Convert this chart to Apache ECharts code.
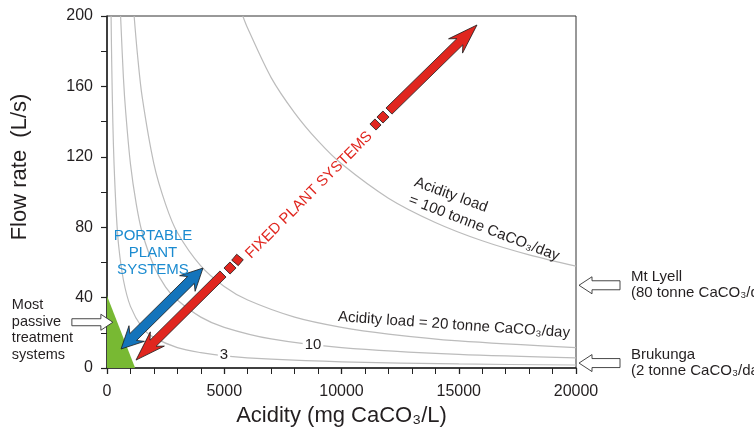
<!DOCTYPE html>
<html>
<head>
<meta charset="utf-8">
<script src="https://cdn.jsdelivr.net/npm/echarts@6/dist/echarts.min.js"></script>
<style>
html, body { margin: 0; padding: 0; background: #fff; }
#chart { width: 754px; height: 442px; }
</style>
</head>
<body>
<div id="chart"></div>
<script>
// iso-load curves: [acidity mg CaCO3/L, flow L/s]
const curve3 = [[174,200],[200,174],[250,139],[300,116],[400,87],[500,69],[700,50],[1000,35],[1500,23],[2000,17.4],[3000,11.6],[4000,8.7],[5000,6.9],[7000,5.0],[10000,3.5],[15000,2.3],[20000,1.7]];
const curve10 = [[579,200],[700,165],[800,145],[1000,116],[1250,93],[1500,77],[2000,58],[2500,46],[3000,38.6],[4000,28.9],[5000,23.1],[7000,16.5],[10000,11.6],[15000,7.7],[20000,5.8]];
const curve20 = [[1157,200],[1300,178],[1500,154],[2000,116],[2500,93],[3000,77],[4000,58],[5000,46.3],[6000,38.6],[8000,28.9],[10000,23.1],[12000,19.3],[15000,15.4],[20000,11.6]];
const curve100 = [[5790,200],[6000,193],[7000,165],[8000,145],[9000,129],[10000,116],[12000,96.5],[14000,82.7],[16000,72.3],[18000,64.3],[20000,57.9]];

// green "most passive treatment" zone
const passiveZone = [[0,41],[1200,0]];

// arrows: [x0, y0, x1, y1, headAtStart, headAtEnd]
const portableArrow = [[600,10.8,4094,56.8,1,1]];
const fixedArrow = [[4947,53.4,1237,4.5,0,1],[12025,146.0,15778,194.9,0,1]];
const fixedDashes = [[5117,55.1,5373,58.5,0,0],[5458,59.7,5671,63.1,0,0],[11343,136.9,11556,139.8,0,0],[11641,140.9,11897,144.3,0,0]];

// curve labels
const curveLabelAt = [[8785,13.1],[4989,7.4]];
const curveLabelText = ['10','3'];

// notes inside the plot
const noteAt = [[14797,24.4],[14669,98.3],[16076,79.5],[8614,98.3],[1960,65.3]];
const noteText = ['Acidity load = 20 tonne CaCO₃/day','Acidity load','= 100 tonne CaCO₃/day','FIXED PLANT SYSTEMS','PORTABLE\nPLANT\nSYSTEMS'];
const noteAngle = [-4,-20,-21,45,0];

// hollow pointer arrows with their captions
const pointerAt = [[20000,47],[20000,2.8],[250,26]];
const pointerText = ['Mt Lyell\n(80 tonne CaCO₃/day)','Brukunga\n(2 tonne CaCO₃/day)','Most\npassive\ntreatment\nsystems'];

const FONT = '"Liberation Sans", Arial, sans-serif';
const INK = '#231f20';
const RED = '#e0261f';
const BLUE = '#1474bb';
const noteColor = [INK, INK, INK, RED, '#1b8bd0'];

function arrowRenderer(fill, w, hw, hl, barb) {
    return function (params, api) {
        const p0 = api.coord([api.value(0), api.value(1)]);
        const p1 = api.coord([api.value(2), api.value(3)]);
        const hs = api.value(4), he = api.value(5);
        const dx = p1[0] - p0[0], dy = p1[1] - p0[1];
        const L = Math.sqrt(dx * dx + dy * dy);
        const ux = dx / L, uy = dy / L, nx = -uy, ny = ux;
        const P = (s, t) => [p0[0] + ux * s + nx * t, p0[1] + uy * s + ny * t];
        let pts = [];
        if (hs) pts.push(P(0, 0), P(hl, hw), P(hl - barb, w));
        else pts.push(P(0, -w), P(0, w));
        if (he) pts.push(P(L - hl + barb, w), P(L - hl, hw), P(L, 0), P(L - hl, -hw), P(L - hl + barb, -w));
        else pts.push(P(L, w), P(L, -w));
        if (hs) pts.push(P(hl - barb, -w), P(hl, -hw));
        return {
            type: 'polygon',
            shape: { points: pts },
            style: { fill: fill, stroke: '#1a1a1a', lineWidth: 0.8 }
        };
    };
}

const chart = echarts.init(document.getElementById('chart'), null, { renderer: 'canvas' });

const curveStyle = { color: '#bcbcbc', width: 1.2 };
const curveSeries = [curve3, curve10, curve20, curve100].map((d, i) => ({
    type: 'line',
    name: 'curve' + i,
    data: d,
    showSymbol: false,
    smooth: 0.3,
    lineStyle: curveStyle,
    z: 2,
    silent: true
}));

chart.setOption({
    animation: false,
    backgroundColor: '#fff',
    textStyle: { fontFamily: FONT },
    grid: {
        left: 107, right: 178, top: 16, bottom: 74,
        containLabel: false,
        outerBoundsMode: 'none',
        show: true,
        borderColor: '#333',
        borderWidth: 1
    },
    xAxis: {
        type: 'value',
        min: 0, max: 20000, interval: 5000,
        name: 'Acidity (mg CaCO₃/L)',
        nameLocation: 'middle',
        nameGap: 25,
        nameTextStyle: { fontSize: 22, color: INK, fontFamily: FONT },
        axisLine: { show: true, lineStyle: { color: '#222', width: 1.5 } },
        axisTick: { show: true, inside: false, length: 6, lineStyle: { color: '#222', width: 1.3 } },
        minorTick: { show: true, splitNumber: 5, length: 6, lineStyle: { color: '#222', width: 1 } },
        splitLine: { show: false },
        minorSplitLine: { show: false },
        axisLabel: { fontSize: 16, color: INK, margin: 16, fontFamily: FONT, formatter: v => String(v) }
    },
    yAxis: {
        type: 'value',
        min: 0, max: 200, interval: 40,
        name: 'Flow rate  (L/s)',
        nameLocation: 'middle',
        nameGap: 76,
        nameTextStyle: { fontSize: 22, color: INK, fontFamily: FONT, padding: [0, 0, 0, 50] },
        axisLine: { show: true, lineStyle: { color: '#222', width: 1.5 } },
        axisTick: { show: true, inside: false, length: 6, lineStyle: { color: '#222', width: 1.2 } },
        minorTick: { show: true, splitNumber: 2, length: 6, lineStyle: { color: '#222', width: 1 } },
        splitLine: { show: false },
        minorSplitLine: { show: false },
        axisLabel: { fontSize: 16, color: INK, margin: 14, fontFamily: FONT, formatter: v => String(v) }
    },
    series: [
        {
            type: 'line',
            name: 'passive',
            data: passiveZone,
            showSymbol: false,
            lineStyle: { width: 0 },
            areaStyle: { color: '#78b933', opacity: 1 },
            z: 1,
            silent: true
        },
        ...curveSeries,
        {
            type: 'custom',
            name: 'curveLabels',
            data: curveLabelAt,
            z: 3,
            silent: true,
            renderItem: function (params, api) {
                const p = api.coord([api.value(0), api.value(1)]);
                return {
                    type: 'text',
                    x: p[0], y: p[1],
                    style: {
                        text: curveLabelText[params.dataIndex],
                        fontSize: 15, fontFamily: FONT, fill: INK,
                        align: 'center', verticalAlign: 'middle',
                        backgroundColor: '#fff', padding: [0, 2]
                    }
                };
            }
        },
        {
            type: 'custom',
            name: 'portable',
            data: portableArrow,
            z: 4,
            silent: true,
            renderItem: arrowRenderer(BLUE, 4.8, 11, 22, 5)
        },
        {
            type: 'custom',
            name: 'fixed',
            data: fixedArrow,
            z: 4,
            silent: true,
            renderItem: arrowRenderer(RED, 4.3, 10, 30, 6)
        },
        {
            type: 'custom',
            name: 'fixedDashes',
            data: fixedDashes,
            z: 4,
            silent: true,
            renderItem: arrowRenderer(RED, 4.3, 4.3, 0, 0)
        },
        {
            type: 'custom',
            name: 'notes',
            data: noteAt,
            z: 5,
            silent: true,
            renderItem: function (params, api) {
                const i = params.dataIndex;
                const p = api.coord([api.value(0), api.value(1)]);
                return {
                    type: 'text',
                    x: p[0], y: p[1],
                    rotation: noteAngle[i] * Math.PI / 180,
                    style: {
                        text: noteText[i],
                        fontSize: 15, fontFamily: FONT, fill: noteColor[i],
                        align: 'center', verticalAlign: 'middle', lineHeight: 17
                    }
                };
            }
        },
        {
            type: 'custom',
            name: 'pointers',
            data: pointerAt,
            z: 5,
            silent: true,
            clip: false,
            renderItem: function (params, api) {
                const i = params.dataIndex;
                const p = api.coord([api.value(0), api.value(1)]);
                const x = p[0], y = p[1];
                let pts, txt;
                if (i < 2) {
                    pts = [[x + 3, y], [x + 16, y - 8.5], [x + 16, y - 4.5], [x + 44, y - 4.5],
                           [x + 44, y + 4.5], [x + 16, y + 4.5], [x + 16, y + 8.5]];
                    txt = { x: x + 55, y: y, align: 'left', verticalAlign: 'middle', lineHeight: 16 };
                } else {
                    pts = [[x, y], [x - 12, y - 8], [x - 12, y - 3.5], [x - 41, y - 3.5],
                           [x - 41, y + 3.5], [x - 12, y + 3.5], [x - 12, y + 8]];
                    txt = { x: x - 101, y: y - 25, align: 'left', verticalAlign: 'top', lineHeight: 16.5 };
                }
                return {
                    type: 'group',
                    children: [
                        {
                            type: 'polygon',
                            shape: { points: pts },
                            style: { fill: '#fff', stroke: '#333', lineWidth: 0.9 }
                        },
                        {
                            type: 'text',
                            x: txt.x, y: txt.y,
                            style: {
                                text: pointerText[i],
                                fontSize: i < 2 ? 15 : 14.5, fontFamily: FONT, fill: INK,
                                align: txt.align, verticalAlign: txt.verticalAlign,
                                lineHeight: txt.lineHeight
                            }
                        }
                    ]
                };
            }
        }
    ]
});
</script>
</body>
</html>
